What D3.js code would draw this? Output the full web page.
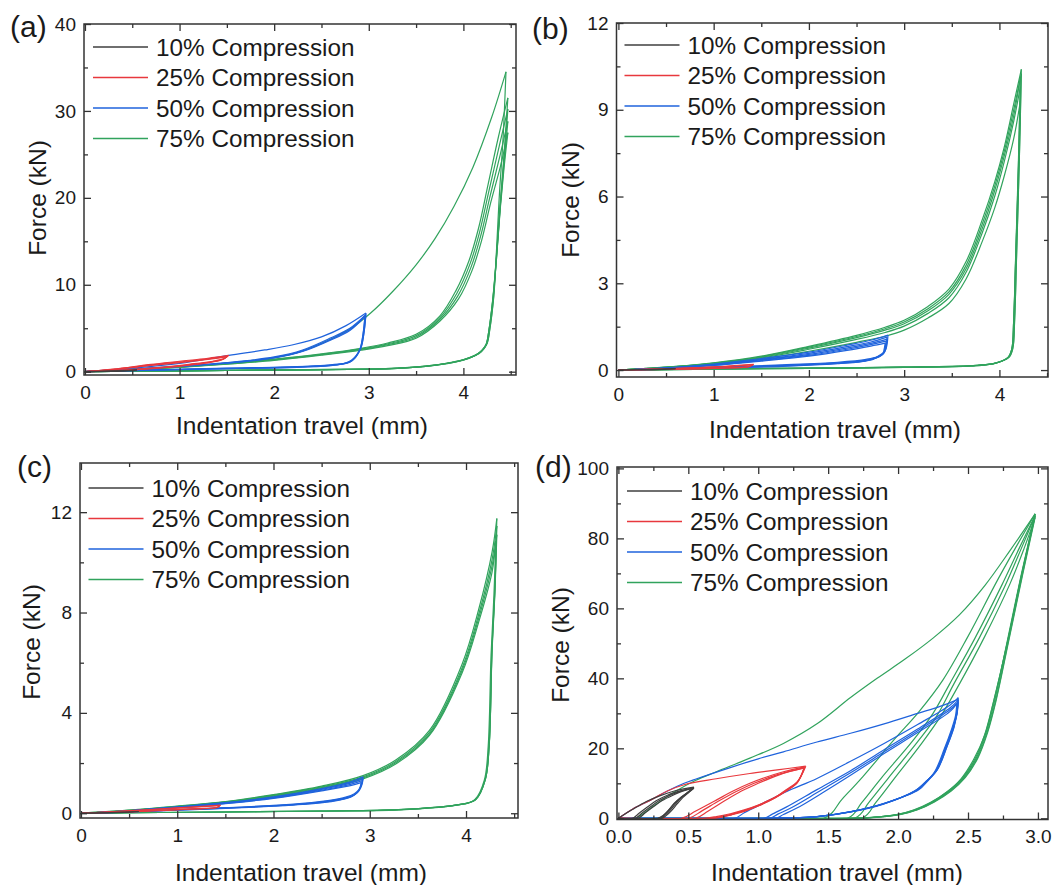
<!DOCTYPE html>
<html>
<head>
<meta charset="utf-8">
<script src="https://cdn.jsdelivr.net/npm/d3@7/dist/d3.min.js"></script>
<style>
  body { margin: 0; background: #fff; }
  svg text { font-family: "Liberation Sans", Arial, sans-serif; fill: #1a1a1a; }
</style>
</head>
<body>
<svg id="fig" width="1057" height="885"></svg>
<script>
// legend
var levels = ["10% Compression", "25% Compression", "50% Compression", "75% Compression"];
var levelColors = ["#3f3f3f", "#e8383d", "#1f63dc", "#31a35d"];

// tick values
var abcXTicks = [0, 1, 2, 3, 4];
var abcXMinor = [0.5, 1.5, 2.5, 3.5, 4.5];
var dXTicks = [0, 0.5, 1, 1.5, 2, 2.5, 3];
var dXMinor = [0.25, 0.75, 1.25, 1.75, 2.25, 2.75];
var aYTicks = [0, 10, 20, 30, 40];
var aYMinor = [5, 15, 25, 35];
var bYTicks = [0, 3, 6, 9, 12];
var bYMinor = [1.5, 4.5, 7.5, 10.5];
var cYTicks = [0, 4, 8, 12];
var cYMinor = [2, 6, 10];
var dYTicks = [0, 20, 40, 60, 80, 100];
var dYMinor = [10, 30, 50, 70, 90];

// ---- (a) cycles: each is [travel mm, force kN], loading then unloading
var aBlack = [
  [[0,0],[0.2,0.06],[0.4,0.14],[0.55,0.22],[0.45,0.1],[0.25,0.03],[0,0]]
];
var aRed = [
  [[0,0],[0.3,0.3],[0.7,0.85],[1.0,1.2],[1.3,1.55],[1.52,1.88],[1.47,1.5],[1.35,1.2],[1.1,0.85],[0.8,0.5],[0.4,0.18],[0,0]],
  [[0,0],[0.3,0.27],[0.7,0.78],[1.0,1.12],[1.3,1.48],[1.51,1.8],[1.46,1.44],[1.34,1.14],[1.1,0.8],[0.8,0.46],[0.4,0.16],[0,0]],
  [[0,0],[0.3,0.25],[0.7,0.72],[1.0,1.05],[1.3,1.42],[1.5,1.74],[1.45,1.38],[1.33,1.08],[1.1,0.76],[0.8,0.43],[0.4,0.15],[0,0]]
];
var aBlue = [
  [[0,0],[0.5,0.4],[1.0,0.95],[1.52,1.88],[1.9,2.5],[2.2,3.1],[2.5,4.0],[2.76,5.3],[2.97,6.75],[2.95,4.6],[2.92,2.9],[2.87,1.9],[2.82,1.35],[2.75,1.0],[2.6,0.8],[2.24,0.58],[1.5,0.4],[1.0,0.28],[0.5,0.15],[0,0]],
  [[0,0],[0.5,0.3],[1.0,0.65],[1.5,1.05],[2.0,1.7],[2.3,2.5],[2.6,3.9],[2.8,5.0],[2.97,6.6],[2.95,4.5],[2.92,2.8],[2.87,1.8],[2.82,1.25],[2.75,0.95],[2.6,0.75],[2.24,0.55],[1.5,0.38],[1.0,0.26],[0.5,0.14],[0,0]],
  [[0,0],[0.5,0.28],[1.0,0.62],[1.5,1.0],[2.0,1.62],[2.3,2.4],[2.6,3.75],[2.8,4.85],[2.96,6.45],[2.94,4.4],[2.91,2.7],[2.86,1.7],[2.8,1.15],[2.72,0.9],[2.6,0.72],[2.24,0.52],[1.5,0.36],[1.0,0.25],[0.5,0.13],[0,0]],
  [[0,0],[0.5,0.27],[1.0,0.6],[1.5,0.98],[2.0,1.58],[2.3,2.32],[2.6,3.65],[2.8,4.75],[2.96,6.35],[2.94,4.3],[2.91,2.65],[2.86,1.65],[2.8,1.1],[2.72,0.86],[2.6,0.7],[2.24,0.5],[1.5,0.35],[1.0,0.24],[0.5,0.12],[0,0]]
];
var aGreen = [
  [[0,0],[0.5,0.28],[1.0,0.6],[1.5,1.0],[2.0,1.62],[2.3,2.4],[2.6,3.75],[2.8,4.9],[3.02,6.75],[3.25,9.2],[3.5,12.3],[3.7,15.3],[3.9,19.0],[4.1,23.5],[4.3,29.3],[4.45,34.5],[4.42,27],[4.38,20.3],[4.35,14],[4.32,8.7],[4.28,5],[4.25,3.3],[4.2,2.5],[4.14,1.95],[4.0,1.4],[3.82,0.97],[3.6,0.65],[3.3,0.4],[3.0,0.3],[2.0,0.2],[1.0,0.1],[0,0]],
  [[0,0],[0.5,0.25],[1.0,0.55],[1.5,0.95],[2.0,1.45],[2.5,2.05],[2.92,2.7],[3.2,3.3],[3.5,4.3],[3.75,6.4],[3.92,9.3],[4.06,12.8],[4.16,16.5],[4.26,21.5],[4.37,27.0],[4.47,31.5],[4.43,25],[4.39,19.5],[4.35,13.5],[4.32,8.5],[4.28,4.9],[4.25,3.2],[4.2,2.45],[4.13,1.9],[4.0,1.38],[3.82,0.95],[3.6,0.63],[3.3,0.4],[3.0,0.3],[2.0,0.2],[1.0,0.1],[0,0]],
  [[0,0],[0.5,0.24],[1.0,0.53],[1.5,0.92],[2.0,1.4],[2.5,2.0],[2.92,2.62],[3.2,3.2],[3.5,4.15],[3.75,6.2],[3.93,9.0],[4.07,12.4],[4.17,16.0],[4.27,20.8],[4.38,26.0],[4.47,30.2],[4.43,24.5],[4.39,19.2],[4.35,13.3],[4.31,8.3],[4.27,4.8],[4.24,3.15],[4.19,2.4],[4.12,1.88],[4.0,1.36],[3.82,0.94],[3.6,0.62],[3.3,0.39],[3.0,0.29],[2.0,0.19],[1.0,0.1],[0,0]],
  [[0,0],[0.5,0.23],[1.0,0.51],[1.5,0.89],[2.0,1.35],[2.5,1.95],[2.92,2.55],[3.2,3.1],[3.5,4.0],[3.75,6.0],[3.94,8.7],[4.08,12.0],[4.18,15.5],[4.28,20.1],[4.39,25.0],[4.47,28.8],[4.43,24],[4.39,19],[4.35,13.1],[4.31,8.2],[4.27,4.75],[4.24,3.1],[4.19,2.35],[4.12,1.85],[4.0,1.34],[3.82,0.93],[3.6,0.61],[3.3,0.38],[3.0,0.28],[2.0,0.18],[1.0,0.1],[0,0]],
  [[0,0],[0.5,0.22],[1.0,0.5],[1.5,0.86],[2.0,1.3],[2.5,1.9],[2.92,2.48],[3.2,3.0],[3.5,3.85],[3.75,5.8],[3.95,8.4],[4.09,11.6],[4.19,15.0],[4.29,19.5],[4.4,24.0],[4.47,27.5],[4.43,23.5],[4.39,18.8],[4.35,13],[4.31,8.1],[4.27,4.7],[4.24,3.05],[4.19,2.3],[4.12,1.83],[4.0,1.32],[3.82,0.92],[3.6,0.6],[3.3,0.37],[3.0,0.28],[2.0,0.18],[1.0,0.1],[0,0]]
];

// ---- (b)
var bBlack = [
  [[0,0],[0.3,0.02],[0.6,0.05],[0.45,0.02],[0.2,0.01],[0,0]]
];
var bRed = [
  [[0,0],[0.5,0.05],[1.0,0.11],[1.42,0.2],[1.38,0.13],[1.0,0.07],[0.5,0.03],[0,0]],
  [[0,0],[0.5,0.04],[1.0,0.1],[1.41,0.18],[1.37,0.12],[1.0,0.06],[0.5,0.02],[0,0]]
];
var bBlue = [
  [[0,0],[0.5,0.08],[1.0,0.21],[1.5,0.4],[2.0,0.62],[2.4,0.86],[2.65,1.03],[2.83,1.21],[2.82,0.88],[2.8,0.66],[2.72,0.47],[2.6,0.37],[2.3,0.27],[1.72,0.18],[1.0,0.1],[0.5,0.05],[0,0]],
  [[0,0],[0.5,0.07],[1.0,0.19],[1.5,0.37],[2.0,0.58],[2.4,0.81],[2.65,0.97],[2.82,1.14],[2.81,0.84],[2.79,0.62],[2.71,0.44],[2.6,0.34],[2.3,0.25],[1.72,0.16],[1.0,0.09],[0.5,0.04],[0,0]],
  [[0,0],[0.5,0.07],[1.0,0.18],[1.5,0.35],[2.0,0.54],[2.4,0.76],[2.65,0.92],[2.82,1.07],[2.81,0.8],[2.79,0.59],[2.7,0.42],[2.58,0.32],[2.3,0.24],[1.72,0.15],[1.0,0.08],[0.5,0.04],[0,0]],
  [[0,0],[0.5,0.06],[1.0,0.17],[1.5,0.33],[2.0,0.51],[2.4,0.72],[2.65,0.88],[2.81,1.0],[2.8,0.76],[2.78,0.56],[2.69,0.4],[2.56,0.3],[2.3,0.23],[1.72,0.14],[1.0,0.08],[0.5,0.03],[0,0]],
  [[0,0],[0.5,0.06],[1.0,0.16],[1.5,0.31],[2.0,0.48],[2.4,0.68],[2.65,0.83],[2.8,0.93],[2.79,0.72],[2.77,0.53],[2.68,0.38],[2.55,0.29],[2.3,0.22],[1.72,0.13],[1.0,0.07],[0.5,0.03],[0,0]]
];
var bGreen = [
  [[0,0],[0.5,0.1],[1.0,0.25],[1.5,0.48],[2.0,0.82],[2.5,1.2],[2.8,1.48],[3.0,1.72],[3.25,2.2],[3.47,2.8],[3.65,3.75],[3.82,5.2],[3.95,6.5],[4.05,7.7],[4.15,9.2],[4.23,10.4],[4.21,7.5],[4.18,4],[4.16,1.8],[4.14,0.75],[4.1,0.45],[3.96,0.24],[3.7,0.15],[3.0,0.1],[2.0,0.07],[1.0,0.04],[0,0]],
  [[0,0],[0.5,0.1],[1.0,0.24],[1.5,0.46],[2.0,0.79],[2.5,1.16],[2.8,1.43],[3.0,1.66],[3.25,2.12],[3.47,2.7],[3.65,3.62],[3.82,5.05],[3.95,6.35],[4.05,7.55],[4.15,9.0],[4.23,10.25],[4.21,7.4],[4.18,3.9],[4.16,1.75],[4.14,0.74],[4.1,0.44],[3.96,0.24],[3.7,0.15],[3.0,0.1],[2.0,0.07],[1.0,0.04],[0,0]],
  [[0,0],[0.5,0.09],[1.0,0.23],[1.5,0.44],[2.0,0.76],[2.5,1.12],[2.8,1.38],[3.0,1.6],[3.25,2.05],[3.47,2.62],[3.65,3.5],[3.82,4.9],[3.95,6.2],[4.05,7.4],[4.15,8.8],[4.22,10.1],[4.2,7.3],[4.17,3.9],[4.15,1.75],[4.13,0.73],[4.09,0.44],[3.95,0.23],[3.7,0.14],[3.0,0.1],[2.0,0.06],[1.0,0.04],[0,0]],
  [[0,0],[0.5,0.09],[1.0,0.22],[1.5,0.42],[2.0,0.72],[2.5,1.06],[2.8,1.3],[3.0,1.52],[3.25,1.96],[3.47,2.5],[3.65,3.38],[3.82,4.75],[3.95,6.0],[4.05,7.2],[4.15,8.6],[4.22,9.8],[4.2,7.1],[4.17,3.8],[4.15,1.7],[4.13,0.72],[4.09,0.43],[3.95,0.23],[3.7,0.14],[3.0,0.09],[2.0,0.06],[1.0,0.03],[0,0]],
  [[0,0],[0.5,0.08],[1.0,0.2],[1.5,0.38],[2.0,0.65],[2.5,0.96],[2.8,1.17],[3.0,1.38],[3.25,1.8],[3.47,2.3],[3.65,3.15],[3.82,4.45],[3.95,5.6],[4.05,6.7],[4.15,8.0],[4.22,9.3],[4.2,6.9],[4.17,3.7],[4.15,1.7],[4.13,0.72],[4.09,0.43],[3.95,0.23],[3.7,0.14],[3.0,0.09],[2.0,0.06],[1.0,0.03],[0,0]]
];

// ---- (c)
var cBlack = [
  [[0,0],[0.3,0.03],[0.6,0.07],[0.45,0.03],[0.2,0.01],[0,0]]
];
var cRed = [
  [[0,0],[0.5,0.1],[1.0,0.21],[1.45,0.32],[1.42,0.24],[1.2,0.18],[0.8,0.11],[0.4,0.04],[0,0]],
  [[0,0],[0.5,0.09],[1.0,0.2],[1.44,0.3],[1.41,0.23],[1.2,0.17],[0.8,0.1],[0.4,0.04],[0,0]]
];
var cBlue = [
  [[0,0],[0.5,0.1],[1.0,0.25],[1.5,0.42],[2.0,0.65],[2.5,0.98],[2.8,1.25],[2.93,1.45],[2.92,1.2],[2.89,0.95],[2.84,0.78],[2.75,0.64],[2.6,0.52],[2.3,0.39],[2.0,0.31],[1.5,0.22],[1.0,0.14],[0.5,0.06],[0,0]],
  [[0,0],[0.5,0.1],[1.0,0.24],[1.5,0.41],[2.0,0.63],[2.5,0.95],[2.8,1.2],[2.93,1.38],[2.92,1.15],[2.89,0.9],[2.84,0.74],[2.75,0.61],[2.6,0.5],[2.3,0.37],[2.0,0.3],[1.5,0.21],[1.0,0.13],[0.5,0.06],[0,0]],
  [[0,0],[0.5,0.09],[1.0,0.23],[1.5,0.39],[2.0,0.61],[2.5,0.92],[2.8,1.15],[2.92,1.3],[2.91,1.1],[2.88,0.86],[2.83,0.71],[2.74,0.58],[2.6,0.48],[2.3,0.36],[2.0,0.29],[1.5,0.2],[1.0,0.13],[0.5,0.05],[0,0]],
  [[0,0],[0.5,0.09],[1.0,0.22],[1.5,0.38],[2.0,0.59],[2.5,0.89],[2.8,1.1],[2.91,1.22],[2.9,1.05],[2.87,0.83],[2.82,0.68],[2.73,0.56],[2.6,0.46],[2.3,0.35],[2.0,0.28],[1.5,0.19],[1.0,0.12],[0.5,0.05],[0,0]]
];
var cGreen = [
  [[0,0],[0.5,0.12],[1.0,0.28],[1.5,0.46],[2.0,0.74],[2.5,1.08],[2.93,1.5],[3.27,2.12],[3.62,3.3],[3.96,5.95],[4.13,8.1],[4.27,10.4],[4.32,11.75],[4.3,9],[4.27,6.6],[4.24,2.7],[4.2,1.35],[4.1,0.55],[3.9,0.33],[3.3,0.14],[2.5,0.09],[1.5,0.05],[0.5,0.02],[0,0]],
  [[0,0],[0.5,0.11],[1.0,0.27],[1.5,0.45],[2.0,0.72],[2.5,1.05],[2.93,1.45],[3.27,2.06],[3.62,3.22],[3.96,5.8],[4.13,7.9],[4.27,10.1],[4.32,11.45],[4.3,8.9],[4.27,6.5],[4.24,2.7],[4.2,1.34],[4.1,0.55],[3.9,0.33],[3.3,0.14],[2.5,0.09],[1.5,0.05],[0.5,0.02],[0,0]],
  [[0,0],[0.5,0.11],[1.0,0.26],[1.5,0.44],[2.0,0.7],[2.5,1.02],[2.93,1.41],[3.27,2.01],[3.62,3.15],[3.96,5.7],[4.13,7.75],[4.27,9.85],[4.32,11.1],[4.3,8.8],[4.27,6.4],[4.24,2.65],[4.2,1.33],[4.1,0.54],[3.9,0.32],[3.3,0.14],[2.5,0.09],[1.5,0.05],[0.5,0.02],[0,0]],
  [[0,0],[0.5,0.1],[1.0,0.25],[1.5,0.43],[2.0,0.68],[2.5,0.99],[2.93,1.37],[3.27,1.96],[3.62,3.1],[3.96,5.6],[4.13,7.6],[4.27,9.6],[4.31,10.85],[4.29,8.7],[4.26,6.3],[4.23,2.65],[4.19,1.32],[4.09,0.54],[3.9,0.32],[3.3,0.13],[2.5,0.08],[1.5,0.05],[0.5,0.02],[0,0]]
];

// ---- (d)
var dBlack = [
  [[0,0],[0.1,2.5],[0.2,4.8],[0.3,6.5],[0.4,7.8],[0.54,8.9],[0.5,7.6],[0.45,6.1],[0.4,4.3],[0.36,2.4],[0.32,0.8],[0.28,0],[0,0]],
  [[0,0],[0.1,0],[0.15,1.5],[0.2,3.0],[0.27,5.0],[0.35,6.6],[0.45,7.9],[0.54,8.8],[0.5,7.5],[0.45,6.0],[0.4,4.2],[0.36,2.3],[0.32,0.75],[0.29,0],[0,0]],
  [[0,0],[0.12,0],[0.17,1.5],[0.22,3.0],[0.29,5.0],[0.37,6.6],[0.46,7.9],[0.54,8.7],[0.5,7.4],[0.45,5.9],[0.41,4.2],[0.37,2.3],[0.33,0.75],[0.3,0],[0,0]],
  [[0,0],[0.14,0],[0.19,1.5],[0.24,3.0],[0.31,5.0],[0.39,6.6],[0.47,7.9],[0.54,8.6],[0.5,7.3],[0.46,5.9],[0.42,4.1],[0.38,2.2],[0.34,0.7],[0.31,0],[0,0]]
];
var dRed = [
  [[0,0],[0.1,2.6],[0.23,5.2],[0.35,7.8],[0.47,9.6],[0.7,11.3],[0.94,12.8],[1.15,13.9],[1.34,14.9],[1.28,10.5],[1.2,8.2],[1.13,6.2],[1.0,3.8],[0.9,2.4],[0.8,1.3],[0.7,0.5],[0.6,0],[0,0]],
  [[0,0],[0.45,0],[0.55,2.0],[0.7,5.2],[0.82,7.8],[0.94,10.0],[1.06,11.8],[1.18,13.3],[1.33,14.7],[1.28,10.4],[1.2,8.0],[1.12,6.0],[1.0,3.7],[0.9,2.2],[0.8,1.1],[0.72,0.4],[0.65,0],[0,0]],
  [[0,0],[0.5,0],[0.6,2.2],[0.72,5.0],[0.85,7.8],[0.97,10],[1.1,12],[1.2,13.2],[1.33,14.5],[1.28,10.3],[1.2,7.9],[1.12,5.9],[1.0,3.6],[0.9,2.1],[0.8,1.0],[0.73,0.35],[0.66,0],[0,0]],
  [[0,0],[0.55,0],[0.64,2.0],[0.76,5.0],[0.88,7.8],[1.0,10],[1.12,12],[1.22,13.3],[1.33,14.4],[1.28,10.2],[1.2,7.8],[1.12,5.8],[1.0,3.5],[0.9,2.0],[0.81,1.0],[0.74,0.3],[0.67,0],[0,0]]
];
var dBlue = [
  [[0,0],[0.1,2.6],[0.23,5.2],[0.35,7.8],[0.47,10],[0.56,11.3],[0.8,14.5],[1.0,17],[1.18,19],[1.42,21.8],[1.66,24.3],[1.9,27],[2.14,30],[2.3,32],[2.43,34],[2.42,30],[2.4,26],[2.35,20.5],[2.28,13.8],[2.2,10.5],[2.14,8.1],[1.9,4.3],[1.66,1.9],[1.42,0.5],[1.2,0.1],[1.05,0],[0,0]],
  [[0,0],[0.83,0],[0.9,1.6],[1.0,3.6],[1.2,7.6],[1.42,11.4],[1.66,16.3],[1.9,21.4],[2.14,26.8],[2.37,32.3],[2.43,34.5],[2.42,30.3],[2.4,26.2],[2.35,20.6],[2.28,13.9],[2.21,10.6],[2.15,8.2],[1.91,4.3],[1.67,1.9],[1.43,0.5],[1.21,0.1],[1.06,0],[0,0]],
  [[0,0],[1.04,0],[1.1,1.2],[1.2,3.2],[1.42,8.2],[1.66,13.6],[1.9,19.6],[2.14,25.5],[2.37,31.5],[2.43,33.8],[2.42,29.8],[2.39,25.8],[2.34,20.3],[2.27,13.6],[2.2,10.4],[2.13,8.0],[1.9,4.2],[1.66,1.85],[1.42,0.48],[1.2,0.1],[1.06,0],[0,0]],
  [[0,0],[1.08,0],[1.14,1.2],[1.24,3.1],[1.44,7.8],[1.66,13.0],[1.9,19.0],[2.14,25.0],[2.37,31.0],[2.43,33.2],[2.42,29.5],[2.39,25.5],[2.34,20.0],[2.27,13.4],[2.19,10.2],[2.12,7.9],[1.89,4.1],[1.65,1.8],[1.42,0.46],[1.2,0.1],[1.07,0],[0,0]],
  [[0,0],[1.12,0],[1.18,1.1],[1.28,3.0],[1.46,7.3],[1.66,12.3],[1.9,18.5],[2.14,24.5],[2.37,30.5],[2.42,32.8],[2.41,29.2],[2.38,25.2],[2.33,19.8],[2.26,13.2],[2.19,10.1],[2.12,7.8],[1.89,4.0],[1.65,1.75],[1.41,0.45],[1.2,0.1],[1.08,0],[0,0]]
];
var dGreen = [
  [[0,0],[0.12,0],[0.25,3.5],[0.4,7.5],[0.55,10.8],[0.7,13.3],[0.94,17.2],[1.18,21.4],[1.42,27],[1.66,34.5],[1.85,40],[2.05,45.5],[2.25,51.5],[2.44,58.2],[2.62,66.5],[2.8,76.5],[2.98,87],[2.88,69],[2.78,50],[2.68,33],[2.62,24],[2.55,17],[2.46,11.5],[2.36,7.8],[2.24,4.6],[2.12,2.4],[2.0,1.1],[1.87,0.45],[1.7,0.1],[1.5,0],[0,0]],
  [[0,0],[1.47,0],[1.6,5.5],[1.75,12],[1.97,22.4],[2.15,30.5],[2.32,39.5],[2.5,52],[2.71,68],[2.85,78],[2.98,87],[2.88,69.5],[2.78,50.5],[2.69,33.5],[2.63,24.5],[2.56,17.3],[2.47,11.7],[2.37,7.9],[2.25,4.7],[2.13,2.45],[2.01,1.1],[1.88,0.45],[1.72,0.1],[1.6,0],[0,0]],
  [[0,0],[1.64,0],[1.74,4.5],[1.88,11.5],[2.11,22.4],[2.25,30.0],[2.37,38.5],[2.55,51.5],[2.74,66.5],[2.87,77.5],[2.98,86.5],[2.88,69],[2.78,50],[2.68,32.8],[2.62,23.8],[2.54,16.8],[2.45,11.3],[2.35,7.6],[2.23,4.5],[2.11,2.35],[1.99,1.05],[1.86,0.42],[1.72,0.1],[1.66,0],[0,0]],
  [[0,0],[1.69,0],[1.79,4.5],[1.93,11.5],[2.15,22.4],[2.28,29.5],[2.4,38.5],[2.58,51.5],[2.76,66],[2.88,77],[2.98,86.5],[2.89,70],[2.79,51],[2.7,34],[2.64,25],[2.57,17.6],[2.48,11.9],[2.38,8.0],[2.26,4.8],[2.14,2.5],[2.02,1.15],[1.89,0.48],[1.76,0.1],[1.71,0],[0,0]],
  [[0,0],[1.74,0],[1.84,4.5],[1.97,11.2],[2.17,21.5],[2.31,29.5],[2.44,38.5],[2.62,52],[2.8,67],[2.9,77],[2.98,86],[2.89,69.5],[2.79,50.5],[2.7,33.5],[2.64,24.5],[2.57,17.2],[2.48,11.6],[2.38,7.8],[2.26,4.7],[2.14,2.45],[2.02,1.1],[1.9,0.46],[1.79,0.1],[1.76,0],[0,0]]
];

var panels = [
  {tag: "(a)", tagX: 10, tagY: 37, l: 84, t: 24, r: 516, b: 375, xDom: [-0.01, 4.556], yDom: [-0.38, 40],
   xTicks: abcXTicks, xMinor: abcXMinor, xFmt: d3.format("d"), yTicks: aYTicks, yMinor: aYMinor,
   series: [aBlack, aRed, aBlue, aGreen], legX: 93, legY: 47, xTitle: [302, 434], yTitle: [38, 198]},
  {tag: "(b)", tagX: 532, tagY: 39, l: 616.5, t: 23, r: 1048, b: 377, xDom: [-0.02, 4.51], yDom: [-0.24, 12],
   xTicks: abcXTicks, xMinor: abcXMinor, xFmt: d3.format("d"), yTicks: bYTicks, yMinor: bYMinor,
   series: [bBlack, bRed, bBlue, bGreen], legX: 624.5, legY: 45, xTitle: [835, 438], yTitle: [571, 200]},
  {tag: "(c)", tagX: 17, tagY: 477, l: 80, t: 463, r: 518, b: 818, xDom: [-0.01, 4.54], yDom: [-0.19, 13.96],
   xTicks: abcXTicks, xMinor: abcXMinor, xFmt: d3.format("d"), yTicks: cYTicks, yMinor: cYMinor,
   series: [cBlack, cRed, cBlue, cGreen], legX: 88.5, legY: 488, xTitle: [301, 881], yTitle: [32, 642]},
  {tag: "(d)", tagX: 535, tagY: 477, l: 617, t: 467, r: 1048, b: 819.5, xDom: [-0.01, 3.072], yDom: [-0.34, 100.4],
   xTicks: dXTicks, xMinor: dXMinor, xFmt: d3.format(".1f"), yTicks: dYTicks, yMinor: dYMinor,
   series: [dBlack, dRed, dBlue, dGreen], legX: 627, legY: 491, xTitle: [837, 881], yTitle: [561, 645]}
];

var svg = d3.select("#fig");

function styleAxis(g) {
  g.select(".domain").remove();
  g.selectAll(".tick line").attr("stroke", "#333").attr("stroke-width", 1.3);
  g.selectAll(".tick text").attr("fill", "#1a1a1a").style("font-size", "19px")
    .style("font-family", "'Liberation Sans', Arial, sans-serif");
}

function drawPanel(p, idx) {
  var g = svg.append("g");
  var x = d3.scaleLinear().domain(p.xDom).range([p.l, p.r]);
  var y = d3.scaleLinear().domain(p.yDom).range([p.b, p.t]);

  g.append("clipPath").attr("id", "clip" + idx)
    .append("rect").attr("x", p.l).attr("y", p.t).attr("width", p.r - p.l).attr("height", p.b - p.t);

  var line = d3.line()
    .x(function(d) { return x(d[0]); })
    .y(function(d) { return y(d[1]); })
    .curve(d3.curveCatmullRom.alpha(0.5));

  var plot = g.append("g").attr("clip-path", "url(#clip" + idx + ")");
  // green first, black last; each cycle split at its peak so the tip stays sharp
  for (var i = p.series.length - 1; i >= 0; i--) {
    p.series[i].forEach(function(cyc) {
      var k = d3.maxIndex(cyc, function(d) { return d[1]; });
      [cyc.slice(0, k + 1), cyc.slice(k)].forEach(function(part) {
        plot.append("path")
          .attr("d", line(part))
          .attr("fill", "none")
          .attr("stroke", levelColors[i])
          .attr("stroke-width", 1.2)
          .attr("stroke-linejoin", "round");
      });
    });
  }

  // axes, ticks pointing inward on all sides
  var gx = g.append("g").attr("transform", "translate(0," + p.b + ")")
    .call(d3.axisBottom(x).tickValues(p.xTicks).tickFormat(p.xFmt).tickSize(-7).tickPadding(10.5));
  styleAxis(gx);
  styleAxis(g.append("g").attr("transform", "translate(0," + p.b + ")")
    .call(d3.axisBottom(x).tickValues(p.xMinor).tickFormat("").tickSize(-4)));
  styleAxis(g.append("g").attr("transform", "translate(0," + p.t + ")")
    .call(d3.axisTop(x).tickValues(p.xTicks).tickFormat("").tickSize(-7)));
  styleAxis(g.append("g").attr("transform", "translate(0," + p.t + ")")
    .call(d3.axisTop(x).tickValues(p.xMinor).tickFormat("").tickSize(-4)));

  var gy = g.append("g").attr("transform", "translate(" + p.l + ",0)")
    .call(d3.axisLeft(y).tickValues(p.yTicks).tickSize(-7).tickPadding(8));
  styleAxis(gy);
  styleAxis(g.append("g").attr("transform", "translate(" + p.l + ",0)")
    .call(d3.axisLeft(y).tickValues(p.yMinor).tickFormat("").tickSize(-4)));
  styleAxis(g.append("g").attr("transform", "translate(" + p.r + ",0)")
    .call(d3.axisRight(y).tickValues(p.yTicks).tickFormat("").tickSize(-7)));
  styleAxis(g.append("g").attr("transform", "translate(" + p.r + ",0)")
    .call(d3.axisRight(y).tickValues(p.yMinor).tickFormat("").tickSize(-4)));

  // frame
  g.append("rect")
    .attr("x", p.l).attr("y", p.t)
    .attr("width", p.r - p.l).attr("height", p.b - p.t)
    .attr("fill", "none").attr("stroke", "#333").attr("stroke-width", 1.5);

  // titles
  g.append("text")
    .attr("x", p.xTitle[0]).attr("y", p.xTitle[1])
    .attr("text-anchor", "middle").style("font-size", "24.5px")
    .text("Indentation travel (mm)");
  g.append("text")
    .attr("transform", "translate(" + (p.yTitle[0] + 8) + "," + p.yTitle[1] + ") rotate(-90)")
    .attr("text-anchor", "middle").style("font-size", "24.5px")
    .text("Force (kN)");
  g.append("text")
    .attr("x", p.tagX).attr("y", p.tagY)
    .style("font-size", "30px")
    .text(p.tag);

  // legend
  levels.forEach(function(name, i) {
    var ly = p.legY + i * 30.5;
    g.append("line")
      .attr("x1", p.legX).attr("x2", p.legX + 55)
      .attr("y1", ly).attr("y2", ly)
      .attr("stroke", levelColors[i]).attr("stroke-width", 1.6);
    g.append("text")
      .attr("x", p.legX + 63).attr("y", ly).attr("dy", "0.35em")
      .style("font-size", "24.3px")
      .text(name);
  });
}

panels.forEach(drawPanel);
</script>
</body>
</html>
